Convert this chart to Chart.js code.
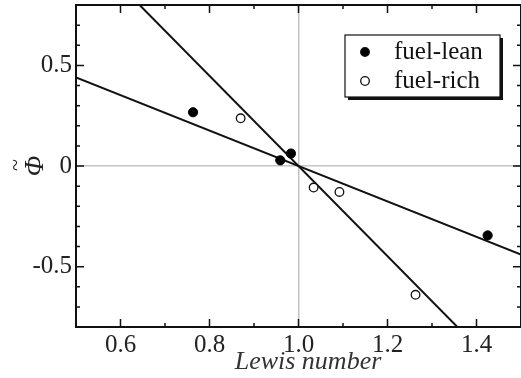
<!DOCTYPE html>
<html>
<head>
<meta charset="utf-8">
<script src="https://cdn.jsdelivr.net/npm/chart.js@4.4.0/dist/chart.umd.min.js"></script>
<style>
  html, body { margin: 0; padding: 0; background: #fff; }
  #wrap { width: 521px; height: 378px; position: relative; }
</style>
</head>
<body>
<div id="wrap"><canvas id="lewisChart"></canvas></div>
<script>
// data
const leanX = [0.763, 0.959, 0.983, 1.425];
const leanY = [0.267, 0.028, 0.062, -0.345];
const richX = [0.870, 1.034, 1.092, 1.263];
const richY = [0.237, -0.107, -0.129, -0.640];
// fitted lines (end points, clipped by the plot area)
const fitShallowX = [0.5, 1.5];
const fitShallowY = [0.44, -0.44];
const fitSteepX = [0.6, 1.4];
const fitSteepY = [0.896, -0.896];
// axis ticks
const xTicks = [0.6, 0.8, 1.0, 1.2, 1.4];
const yTicks = [0.5, 0, -0.5];
const xTitle = 'Lewis number';
const yTitle = 'Φ';

const toPoints = (xs, ys) => xs.map((x, i) => ({ x: x, y: ys[i] }));

// frame, inward ticks on all four sides, axis titles and the legend box
const framePlugin = {
  id: 'frame',
  afterDraw(chart) {
    const ctx = chart.ctx;
    const a = chart.chartArea;
    const xs = chart.scales.x, ys = chart.scales.y;
    ctx.save();
    ctx.strokeStyle = '#111';
    ctx.lineWidth = 2;
    ctx.strokeRect(a.left, a.top, a.right - a.left, a.bottom - a.top);

    ctx.lineWidth = 1.5;
    ctx.beginPath();
    for (let i = 0; i <= 10; i++) {
      const v = 0.5 + i * 0.1;
      const px = xs.getPixelForValue(v);
      const len = (i % 2 === 1) ? 8 : 4;
      ctx.moveTo(px, a.bottom); ctx.lineTo(px, a.bottom - len);
      ctx.moveTo(px, a.top); ctx.lineTo(px, a.top + len);
    }
    for (let i = 0; i <= 16; i++) {
      const v = -0.8 + i * 0.1;
      const py = ys.getPixelForValue(v);
      const len = (i % 5 === 3) ? 8 : 4;
      ctx.moveTo(a.left, py); ctx.lineTo(a.left + len, py);
      ctx.moveTo(a.right, py); ctx.lineTo(a.right - len, py);
    }
    ctx.stroke();

    // x title
    ctx.fillStyle = '#333';
    ctx.font = 'italic 26px "Liberation Serif"';
    ctx.textAlign = 'center';
    ctx.textBaseline = 'alphabetic';
    ctx.fillText(xTitle, 308, 369);

    // y title: phi with a tilde over it, turned a quarter
    ctx.save();
    ctx.translate(36, ys.getPixelForValue(0));
    ctx.rotate(-Math.PI / 2);
    ctx.fillStyle = '#222';
    ctx.textBaseline = 'middle';
    ctx.font = 'italic 27px "Liberation Serif"';
    ctx.fillText(yTitle, 0, 0);
    ctx.font = '22px "Liberation Serif"';
    ctx.fillText('~', 1, -20);
    ctx.restore();

    // legend
    const bx = 345, by = 35, bw = 155, bh = 62;
    ctx.fillStyle = '#111';
    ctx.fillRect(bx + 3, by + 3, bw, bh);
    ctx.fillStyle = '#fff';
    ctx.fillRect(bx, by, bw, bh);
    ctx.lineWidth = 1.2;
    ctx.strokeStyle = '#111';
    ctx.strokeRect(bx, by, bw, bh);
    ctx.textAlign = 'left';
    const items = chart.data.datasets.filter(d => d.showInLegend);
    items.forEach((d, i) => {
      const cy = by + 17 + i * 29;
      ctx.beginPath();
      ctx.arc(365, cy, 4.3, 0, Math.PI * 2);
      ctx.fillStyle = d.backgroundColor;
      ctx.fill();
      ctx.lineWidth = 1.3;
      ctx.strokeStyle = '#111';
      ctx.stroke();
      ctx.fillStyle = '#111';
      ctx.font = '25px "Liberation Serif"';
      ctx.textBaseline = 'middle';
      ctx.fillText(d.label, 394, cy);
    });
    ctx.restore();
  }
};

const ctx = document.getElementById('lewisChart').getContext('2d');
const chart = new Chart(ctx, {
  type: 'scatter',
  data: {
    datasets: [
      {
        label: 'fuel-lean',
        showInLegend: true,
        data: toPoints(leanX, leanY),
        backgroundColor: '#000',
        borderColor: '#000',
        borderWidth: 1,
        pointRadius: 4.6
      },
      {
        label: 'fuel-rich',
        showInLegend: true,
        data: toPoints(richX, richY),
        backgroundColor: '#fff',
        borderColor: '#111',
        borderWidth: 1.3,
        pointRadius: 4.3
      },
      {
        type: 'line',
        label: 'fit shallow',
        data: toPoints(fitShallowX, fitShallowY),
        borderColor: '#111',
        borderWidth: 2,
        pointRadius: 0,
        fill: false
      },
      {
        type: 'line',
        label: 'fit steep',
        data: toPoints(fitSteepX, fitSteepY),
        borderColor: '#111',
        borderWidth: 2,
        pointRadius: 0,
        fill: false
      }
    ]
  },
  options: {
    responsive: true,
    maintainAspectRatio: false,
    animation: false,
    // right edge of the frame sits just past the canvas, as in the source figure
    layout: { autoPadding: false, padding: { top: 5, right: -3.5, left: 0, bottom: 0 } },
    plugins: {
      legend: { display: false },
      tooltip: { enabled: false }
    },
    scales: {
      x: {
        type: 'linear',
        min: 0.5,
        max: 1.5,
        afterBuildTicks: s => { s.ticks = xTicks.map(v => ({ value: v })); },
        afterFit: s => {
          s.height = 51;
          s.paddingLeft = 0; s.paddingRight = 0;
        },
        border: { display: false },
        grid: {
          drawTicks: false,
          lineWidth: 1.5,
          color: c => (c.tick && c.tick.value === 1) ? '#c4c4c4' : 'rgba(0,0,0,0)'
        },
        ticks: {
          padding: 3,
          color: '#222',
          font: { family: 'Liberation Serif', size: 25 },
          callback: v => v.toFixed(1)
        }
      },
      y: {
        type: 'linear',
        min: -0.8,
        max: 0.8,
        afterBuildTicks: s => { s.ticks = yTicks.map(v => ({ value: v })); },
        afterFit: s => {
          s.width = 76;
          s.paddingTop = 0; s.paddingBottom = 0;
        },
        border: { display: false },
        grid: {
          drawTicks: false,
          lineWidth: 1.5,
          color: c => (c.tick && c.tick.value === 0) ? '#c4c4c4' : 'rgba(0,0,0,0)'
        },
        ticks: {
          padding: 4,
          color: '#222',
          font: { family: 'Liberation Serif', size: 25 },
          callback: v => (v === 0 ? '0' : v.toFixed(1))
        }
      }
    }
  },
  plugins: [framePlugin]
});
</script>
</body>
</html>
